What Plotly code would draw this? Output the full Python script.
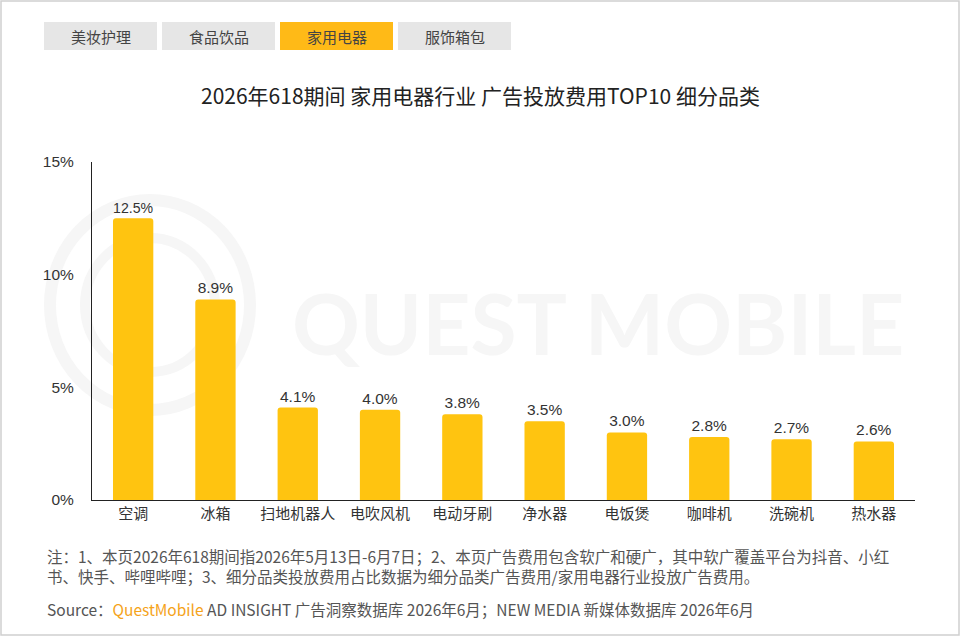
import plotly.graph_objects as go

# data
categories = ['空调', '冰箱', '扫地机器人', '电吹风机', '电动牙刷', '净水器', '电饭煲', '咖啡机', '洗碗机', '热水器']
share = [12.5, 8.9, 4.1, 4.0, 3.8, 3.5, 3.0, 2.8, 2.7, 2.6]
y_ticks = [0, 5, 10, 15]
y_tick_text = ['0%', '5%', '10%', '15%']
tabs = ['美妆护理', '食品饮品', '家用电器', '服饰箱包']
active_tab = '家用电器'

W, H = 960, 636
L, R, T, B = 92, 45, 162, 136
PW, PH = W - L - R, H - T - B

def px(x):
    return (x - L) / PW

def py(y):
    return (H - B - y) / PH

CJK = 'Noto Sans CJK SC, Microsoft YaHei, sans-serif'
NUM = 'Liberation Sans, Arial, sans-serif'

fig = go.Figure()

fig.add_trace(go.Bar(
    x=categories,
    y=share,
    marker=dict(color='#FFC410', cornerradius=3, line=dict(width=0)),
    text=[f'{v:.1f}%' for v in share],
    textposition='outside',
    textfont=dict(family=NUM, size=15.5, color='#333333'),
    cliponaxis=False,
    width=0.49,
    hoverinfo='skip'
))

shapes = []
# outer frame
shapes.append(dict(type='rect', xref='paper', yref='paper',
                   x0=px(1), x1=px(W - 1), y0=py(H - 1), y1=py(1),
                   line=dict(color='#D0D0D0', width=1.5), layer='below'))
# watermark rings
shapes.append(dict(type='circle', xref='paper', yref='paper',
                   x0=px(50), x1=px(250), y0=py(410), y1=py(200),
                   line=dict(color='#F6F6F6', width=12), layer='below'))
shapes.append(dict(type='circle', xref='paper', yref='paper',
                   x0=px(85), x1=px(215), y0=py(372), y1=py(238),
                   line=dict(color='#F6F6F6', width=10), layer='below'))

annotations = []
# tabs
tab_x0 = [44, 162, 280, 398]
for name, x0 in zip(tabs, tab_x0):
    on = name == active_tab
    shapes.append(dict(type='rect', xref='paper', yref='paper',
                       x0=px(x0), x1=px(x0 + 113), y0=py(50), y1=py(22),
                       fillcolor='#FFBA17' if on else '#E6E6E6',
                       line=dict(width=0)))
    annotations.append(dict(text=name, xref='paper', yref='paper',
                            x=px(x0 + 56.5), y=py(36), xanchor='center', yanchor='middle',
                            showarrow=False,
                            font=dict(family=CJK, size=15, color='#444444')))

# watermark text
annotations.append(dict(text='<b>QUEST MOBILE</b>', xref='paper', yref='paper',
                        x=px(598), y=py(322), xanchor='center', yanchor='middle', showarrow=False,
                        font=dict(family='Lato, sans-serif', size=84, color='#F6F6F6')))

annotations.append(dict(
    text='2026年618期间 家用电器行业 广告投放费用TOP10 细分品类',
    xref='paper', yref='paper', x=px(480), y=py(95), xanchor='center', yanchor='middle',
    showarrow=False,
    font=dict(family=CJK, size=21, color='#222222')))

notes = ('注：1、本页2026年618期间指2026年5月13日-6月7日；2、本页广告费用包含软广和硬广，其中软广覆盖平台为抖音、小红<br>'
         '书、快手、哔哩哔哩；3、细分品类投放费用占比数据为细分品类广告费用/家用电器行业投放广告费用。')
annotations.append(dict(text=notes, xref='paper', yref='paper',
                        x=px(45), y=py(566), xanchor='left', yanchor='middle', align='left',
                        showarrow=False,
                        font=dict(family=CJK, size=15.5, color='#555555')))
annotations.append(dict(
    text='Source：<span style="color:#F5A31A">QuestMobile</span> AD INSIGHT 广告洞察数据库 2026年6月；NEW MEDIA 新媒体数据库 2026年6月',
    xref='paper', yref='paper', x=px(45), y=py(609), xanchor='left', yanchor='middle',
    showarrow=False, font=dict(family=CJK, size=15.5, color='#555555')))

fig.update_layout(
    width=W, height=H,
    margin=dict(l=L, r=R, t=T, b=B),
    paper_bgcolor='white', plot_bgcolor='rgba(0,0,0,0)',
    showlegend=False,
    shapes=shapes,
    annotations=annotations,
    xaxis=dict(showline=True, linecolor='#222222', linewidth=1,
               ticks='', showgrid=False,
               tickfont=dict(family=CJK, size=15, color='#333333')),
    yaxis=dict(range=[0, 15], tickvals=y_ticks, ticktext=y_tick_text,
               showline=True, linecolor='#222222', linewidth=1,
               ticks='', showgrid=False, zeroline=False, ticklabelstandoff=14,
               tickfont=dict(family=NUM, size=15.5, color='#333333')),
)

fig.write_html('out.html', config={'displayModeBar': False},
               post_script="document.body.style.margin='0';")
